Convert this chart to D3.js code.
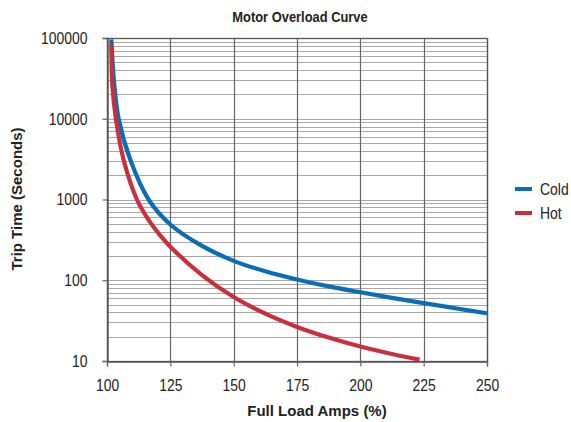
<!DOCTYPE html>
<html><head><meta charset="utf-8">
<script src="https://cdn.jsdelivr.net/npm/d3@7"></script>
<style>
body{margin:0;background:#fff;}
text{font-family:"Liberation Sans",Arial,Helvetica,sans-serif;fill:#222;}
</style></head>
<body><svg id="chart" width="571" height="422"></svg>
<script>
const title = "Motor Overload Curve";
const xLabel = "Full Load Amps (%)";
const yLabel = "Trip Time (Seconds)";
const xTicks = [100, 125, 150, 175, 200, 225, 250];
const yTicks = [10, 100, 1000, 10000, 100000];
const seriesNames = ["Cold", "Hot"];
const seriesColors = ["#0a6db5", "#c9303e"];
const coldAmps = [101.7, 102.9, 104.6, 109.2, 116.4, 125, 137.5, 150, 162.5, 175, 187.5, 200, 212.5, 225, 237.5, 250];
const coldTime = [96000, 26000, 10000, 3100, 1000, 490, 266, 174, 129, 102, 84, 71, 60.5, 52, 45, 39];
const hotAmps = [101.7, 102.1, 103.5, 106.6, 111.8, 116.4, 121, 125, 137.5, 150, 162.5, 175, 187.5, 200, 212.5, 223.4];
const hotTime = [83000, 26000, 10000, 3060, 1000, 560, 360, 260, 116, 62, 38.5, 26.4, 19.5, 15.1, 12.2, 10.4];

const SX = 0.82; // narrow type
const svg = d3.select("#chart");
const m = {l:107, r:487, t:38, b:361};
const x = d3.scaleLinear().domain([100, 250]).range([m.l, m.r]);
const y = d3.scaleLog().domain([10, 100000]).range([m.b, m.t]);

// minor horizontal grid
const minor = [];
for (let d = 10; d < 100000; d *= 10) for (let k = 1; k <= 10; k++) minor.push(d * k);
svg.append("g").selectAll("line").data(minor).join("line")
  .attr("x1", m.l).attr("x2", m.r)
  .attr("y1", d => Math.round(y(d)) + 0.5).attr("y2", d => Math.round(y(d)) + 0.5)
  .attr("stroke", "#a8a8a8").attr("stroke-width", 1);

// vertical grid
svg.append("g").selectAll("line").data(xTicks).join("line")
  .attr("x1", d => Math.round(x(d)) + 0.5).attr("x2", d => Math.round(x(d)) + 0.5)
  .attr("y1", m.t).attr("y2", m.b)
  .attr("stroke", "#666").attr("stroke-width", 1.2);

// frame
svg.append("rect").attr("x", m.l + 0.5).attr("y", m.t + 0.5)
  .attr("width", m.r - m.l).attr("height", m.b - m.t)
  .attr("fill", "none").attr("stroke", "#555").attr("stroke-width", 1.3);

// axes
const xAxis = svg.append("g").attr("transform", `translate(0,${m.b + 0.5})`)
  .call(d3.axisBottom(x).tickValues(xTicks).tickSize(5).tickPadding(12).tickFormat(d3.format("d")));
const yAxis = svg.append("g").attr("transform", `translate(${m.l + 0.5},0)`)
  .call(d3.axisLeft(y).tickValues(yTicks).tickSize(5).tickPadding(16).tickFormat(d3.format("d")));
[xAxis, yAxis].forEach(a => {
  a.select(".domain").attr("stroke", "#555").attr("stroke-width", 1.3);
  a.selectAll(".tick line").attr("stroke", "#666").attr("stroke-width", 1.2);
  a.selectAll("text").attr("font-size", 17).attr("fill", "#222")
    .style("font-family", "'Liberation Sans',Arial,sans-serif")
    .attr("transform", `scale(${SX},1)`);
});
yAxis.selectAll("text").attr("x", -20 / SX);

// curves
const line = d3.line().x(d => x(d[0])).y(d => y(d[1])).curve(d3.curveCatmullRom.alpha(0.5));
const series = [d3.zip(coldAmps, coldTime), d3.zip(hotAmps, hotTime)];
svg.append("g").selectAll("path").data(series).join("path")
  .attr("d", line).attr("fill", "none")
  .attr("stroke", (d, i) => seriesColors[i]).attr("stroke-width", 4.2);

// titles
svg.append("text").attr("transform", "translate(300,22) scale(0.86,1)").attr("text-anchor", "middle")
  .attr("font-size", 15).attr("font-weight", "bold").text(title);
svg.append("text").attr("x", 317).attr("y", 416).attr("text-anchor", "middle")
  .attr("font-size", 15).attr("font-weight", "bold").text(xLabel);
svg.append("text").attr("transform", "translate(22,199) rotate(-90)").attr("text-anchor", "middle")
  .attr("font-size", 15).attr("font-weight", "bold").text(yLabel);

// legend
const lg = svg.append("g").selectAll("g").data(seriesNames).join("g")
  .attr("transform", (d, i) => `translate(515,${189 + i * 24})`);
lg.append("line").attr("x1", 0).attr("x2", 17).attr("y1", 0).attr("y2", 0)
  .attr("stroke", (d, i) => seriesColors[i]).attr("stroke-width", 4);
lg.append("text").attr("transform", `translate(25,6) scale(${SX},1)`).attr("font-size", 17).text(d => d);
</script></body></html>
